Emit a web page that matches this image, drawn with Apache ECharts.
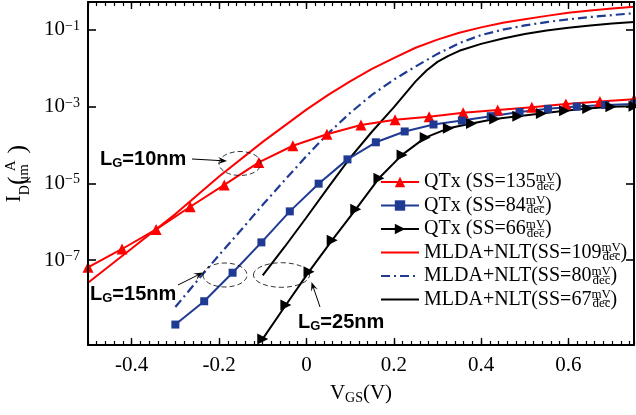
<!DOCTYPE html>
<html>
<head>
<meta charset="utf-8">
<script src="https://cdn.jsdelivr.net/npm/echarts@6/dist/echarts.min.js"></script>
<style>
  html, body { margin: 0; padding: 0; background: #fff; }
  #chart { width: 636px; height: 415px; }
</style>
</head>
<body>
<div id="chart"></div>
<script>
// QTx simulations (markers)
const qtx10V = [-0.5, -0.422, -0.344, -0.266, -0.188, -0.109, -0.031, 0.047, 0.125, 0.203, 0.281, 0.359, 0.438, 0.516, 0.594, 0.672, 0.75]
const qtx10I = [6.5e-8, 1.95e-7, 6.3e-7, 2.45e-6, 9.1e-6, 3.5e-5, 9.5e-5, 1.9e-4, 3.3e-4, 4.5e-4, 5.4e-4, 6.9e-4, 8.1e-4, 9.5e-4, 1.17e-3, 1.35e-3, 1.55e-3]
const qtx15V = [-0.3, -0.234, -0.169, -0.103, -0.038, 0.028, 0.094, 0.159, 0.225, 0.291, 0.356, 0.422, 0.488, 0.553, 0.619, 0.684, 0.75]
const qtx15I = [2.1e-9, 8.5e-9, 4.7e-8, 2.9e-7, 1.86e-6, 9.8e-6, 4.2e-5, 1.17e-4, 2.24e-4, 3.4e-4, 4.3e-4, 5.6e-4, 7.2e-4, 8.7e-4, 1.0e-3, 1.1e-3, 1.17e-3]
const qtx25V = [-0.1, -0.047, 0.006, 0.059, 0.113, 0.166, 0.219, 0.272, 0.325, 0.378, 0.431, 0.484, 0.538, 0.591, 0.644, 0.697, 0.75]
const qtx25I = [8.9e-10, 6.8e-9, 5.0e-8, 3.3e-7, 2.1e-6, 1.35e-5, 5.5e-5, 1.55e-4, 2.7e-4, 3.6e-4, 4.7e-4, 5.6e-4, 6.6e-4, 7.8e-4, 8.9e-4, 9.8e-4, 1.02e-3]

// MLDA+NLT model (lines)
const nlt10V = [-0.5, -0.4, -0.3, -0.2, -0.1, 0, 0.05, 0.1, 0.15, 0.2, 0.25, 0.3, 0.35, 0.4, 0.45, 0.5, 0.55, 0.6, 0.65, 0.7, 0.75]
const nlt10I = [2.57e-8, 2.0e-7, 1.58e-6, 1.51e-5, 1.2e-4, 8.3e-4, 2.0e-3, 4.5e-3, 9.5e-3, 0.0182, 0.0339, 0.055, 0.083, 0.115, 0.151, 0.186, 0.229, 0.275, 0.316, 0.355, 0.398]
const nlt15V = [-0.3, -0.25, -0.2, -0.15, -0.1, -0.05, 0, 0.05, 0.1, 0.15, 0.2, 0.25, 0.3, 0.35, 0.4, 0.45, 0.5, 0.55, 0.6, 0.65, 0.7, 0.75]
const nlt15I = [6.0e-9, 2.9e-8, 1.35e-7, 6.0e-7, 2.75e-6, 1.2e-5, 5.1e-5, 2.0e-4, 6.8e-4, 2.0e-3, 5.0e-3, 0.011, 0.0234, 0.0447, 0.0724, 0.1, 0.129, 0.158, 0.186, 0.214, 0.24, 0.269]
const nlt25V = [-0.1, -0.05, 0, 0.05, 0.1, 0.15, 0.2, 0.25, 0.275, 0.3, 0.325, 0.35, 0.4, 0.45, 0.5, 0.55, 0.6, 0.65, 0.7, 0.75]
const nlt25I = [4.0e-8, 2.2e-7, 1.29e-6, 7.8e-6, 4.6e-5, 2.2e-4, 9.5e-4, 4.5e-3, 8.7e-3, 0.0145, 0.0209, 0.0282, 0.0427, 0.0589, 0.0776, 0.0955, 0.112, 0.129, 0.145, 0.158]

const seriesNames = [
  'QTx (SS=135 mV/dec)',
  'QTx (SS=84 mV/dec)',
  'QTx (SS=66 mV/dec)',
  'MLDA+NLT(SS=109 mV/dec)',
  'MLDA+NLT(SS=80 mV/dec)',
  'MLDA+NLT(SS=67 mV/dec)'
]

// tick labels
const ticksX = [-0.4, -0.2, 0, 0.2, 0.4, 0.6]
const ticksY = [1e-7, 1e-5, 1e-3, 1e-1]

const SERIF = '"Liberation Serif", "Times New Roman", serif'
const SANS = '"Liberation Sans", Arial, sans-serif'
const RED = '#ff0000'
const BLUE = '#1f3a93'

const X_MIN = -0.5
const X_MAX = 0.75
const Y_MIN = 6.17e-10
const Y_MAX = 0.526

function pairs(xs, ys) {
  return xs.map((x, i) => [x, ys[i]])
}

function arrow(x1, y1, x2, y2) {
  const a = Math.atan2(y2 - y1, x2 - x1)
  const L = 9
  const W = 3.5
  const c = Math.cos(a)
  const s = Math.sin(a)
  const bx = x2 - L * c
  const by = y2 - L * s
  return [
    { type: 'line', shape: { x1: x1, y1: y1, x2: x2 - 5 * c, y2: y2 - 5 * s }, style: { stroke: '#000', lineWidth: 1 }, z: 50 },
    {
      type: 'polygon',
      shape: { points: [[x2, y2], [bx - s * W, by + c * W], [x2 - 0.6 * L * c, y2 - 0.6 * L * s], [bx + s * W, by - c * W]] },
      style: { fill: '#000' },
      z: 50
    }
  ]
}

function ellipse(cx, cy, rx, ry) {
  return {
    type: 'ellipse',
    shape: { cx: cx, cy: cy, rx: rx, ry: ry },
    style: { fill: null, stroke: '#000', lineWidth: 0.8, lineDash: [5, 3] },
    z: 50
  }
}

function lgLabel(x, y, txt) {
  return {
    type: 'text',
    x: x,
    y: y,
    z: 50,
    style: {
      text: '{a|L}{b|G}{a|' + txt + '}',
      fontFamily: SANS,
      fontWeight: 'bold',
      verticalAlign: 'top',
      fill: '#000',
      rich: {
        a: { fontFamily: SANS, fontWeight: 'bold', fontSize: 20, lineHeight: 20, verticalAlign: 'top', fill: '#000' },
        b: { fontFamily: SANS, fontWeight: 'bold', fontSize: 13, lineHeight: 13, padding: [12, 0, 0, 0], verticalAlign: 'bottom', fill: '#000' }
      }
    }
  }
}

const chart = echarts.init(document.getElementById('chart'))

// axes sit above the series (z 10), otherwise the inside ticks get hidden
const xTickAxis = (pos, showLabel) => ({
  type: 'value',
  position: pos,
  z: 10,
  min: X_MIN,
  max: X_MAX,
  interval: 0.1,
  axisLine: { show: true, onZero: false, lineStyle: { color: '#000', width: 2 } },
  axisTick: { show: true, inside: true, length: 4, lineStyle: { color: '#000', width: 1.2 } },
  minorTick: { show: true, splitNumber: 5, length: 4, lineStyle: { color: '#000', width: 1.2 } },
  splitLine: { show: false },
  axisLabel: {
    show: showLabel,
    customValues: ticksX,
    margin: 10,
    fontFamily: SERIF,
    fontSize: 21,
    color: '#000',
    formatter: v => String(v)
  }
})

const xMajorAxis = pos => ({
  type: 'value',
  position: pos,
  z: 10,
  min: X_MIN,
  max: X_MAX,
  axisLine: { show: false },
  axisTick: { show: true, inside: true, length: 7, customValues: ticksX, lineStyle: { color: '#000', width: 1.4 } },
  axisLabel: { show: false },
  splitLine: { show: false }
})

const yAxisBase = (pos, showLabel) => ({
  type: 'log',
  logBase: 10,
  position: pos,
  z: 10,
  min: Y_MIN,
  max: Y_MAX,
  axisLine: { show: true, onZero: false, lineStyle: { color: '#000', width: 2 } },
  axisTick: { show: true, inside: true, length: 8, customValues: ticksY, lineStyle: { color: '#000', width: 1.6 } },
  minorTick: { show: false },
  splitLine: { show: false },
  axisLabel: {
    show: showLabel,
    customValues: ticksY,
    margin: 8,
    formatter: v => '{b|10}{e|\u2212' + (-Math.round(Math.log10(v))) + '}',
    rich: {
      b: { fontFamily: SERIF, fontSize: 21, lineHeight: 21, verticalAlign: 'bottom', color: '#000' },
      e: { fontFamily: SERIF, fontSize: 14, lineHeight: 14, padding: [0, 0, 10, 0], verticalAlign: 'top', color: '#000' }
    }
  }
})

const lineSeries = (name, xs, ys, color, extra) => Object.assign({
  name: name,
  type: 'line',
  xAxisIndex: 0,
  yAxisIndex: 0,
  data: pairs(xs, ys),
  color: color,
  lineStyle: { color: color, width: 2 },
  itemStyle: { color: color },
  showSymbol: true,
  smooth: false,
  silent: true,
  animation: false
}, extra)

const legendRich = {
  t: { fontFamily: SERIF, fontSize: 20, lineHeight: 22, color: '#000' },
  u: { fontFamily: SERIF, fontSize: 13, lineHeight: 11, width: 1, verticalAlign: 'top', color: '#000' },
  d: { fontFamily: SERIF, fontSize: 13, lineHeight: 11, verticalAlign: 'bottom', color: '#000' }
}

chart.setOption({
  animation: false,
  backgroundColor: '#fff',
  grid: { left: 88, right: 2, top: 2, bottom: 70, containLabel: false, outerBoundsMode: 'none' },
  xAxis: [
    Object.assign(xTickAxis('bottom', true), {
      name: '{t|V}{s|GS}{t|(V)}',
      nameLocation: 'middle',
      nameGap: 38,
      nameTextStyle: {
        rich: {
          t: { fontFamily: SERIF, fontSize: 21, lineHeight: 22, verticalAlign: 'top', color: '#000' },
          s: { fontFamily: SERIF, fontSize: 14, lineHeight: 14, padding: [10, 0, 0, 0], verticalAlign: 'bottom', color: '#000' }
        }
      }
    }),
    xTickAxis('top', false),
    xMajorAxis('bottom'),
    xMajorAxis('top')
  ],
  yAxis: [
    Object.assign(yAxisBase('left', true), {
      name: '{t|I}{s|D}{p|(}{d|\u03bcm}{u|A}{p|)}',
      nameLocation: 'middle',
      nameGap: 56,
      nameRotate: 90,
      nameTextStyle: {
        rich: {
          t: { fontFamily: SERIF, fontSize: 21, lineHeight: 24, verticalAlign: 'top', color: '#000' },
          s: { fontFamily: SERIF, fontSize: 14, lineHeight: 14, padding: [12, 0, 0, 0], verticalAlign: 'bottom', color: '#000' },
          p: { fontFamily: SERIF, fontSize: 26, lineHeight: 28, color: '#000' },
          d: { fontFamily: SERIF, fontSize: 15, lineHeight: 14, width: 5, verticalAlign: 'bottom', color: '#000' },
          u: { fontFamily: SERIF, fontSize: 15, lineHeight: 14, padding: [0, 7, 0, 0], verticalAlign: 'top', color: '#000' }
        }
      }
    }),
    yAxisBase('right', false)
  ],
  legend: {
    orient: 'vertical',
    left: 380,
    top: 171,
    itemWidth: 38,
    itemHeight: 13,
    itemGap: 1.5,
    selectedMode: false,
    padding: 0,
    data: seriesNames.map((n, i) => i < 3 ? n : { name: n, itemStyle: { opacity: 0 } }),
    formatter: name => {
      const head = name.split(' mV/dec')[0]
      return '{t|' + head + '}{u|m\u0332V\u0332}{d|dec}{t|)}'
    },
    textStyle: { rich: legendRich }
  },
  series: [
    lineSeries(seriesNames[0], qtx10V, qtx10I, RED, { symbol: 'triangle', symbolSize: 11, z: 3 }),
    lineSeries(seriesNames[1], qtx15V, qtx15I, BLUE, { symbol: 'rect', symbolSize: 8, z: 3 }),
    lineSeries(seriesNames[2], qtx25V, qtx25I, '#000', { symbol: 'triangle', symbolRotate: -90, symbolSize: 11, z: 3 }),
    lineSeries(seriesNames[3], nlt10V, nlt10I, RED, { symbol: 'none', z: 2 }),
    lineSeries(seriesNames[4], nlt15V, nlt15I, BLUE, {
      symbol: 'none', z: 2,
      lineStyle: { color: BLUE, width: 2.2, type: [9, 4, 2, 4] }
    }),
    lineSeries(seriesNames[5], nlt25V, nlt25I, '#000', { symbol: 'none', z: 2 })
  ],
  graphic: [
    lgLabel(100, 149.5, '=10nm'),
    ...arrow(192, 159, 227, 161),
    ellipse(240, 163.5, 21, 12),
    lgLabel(90, 284.5, '=15nm'),
    ...arrow(178, 285, 203, 272.5),
    ellipse(225, 275, 22, 12),
    lgLabel(298, 312.5, '=25nm'),
    ...arrow(320, 307, 311.5, 282),
    ellipse(281.5, 275, 28, 12.3)
  ]
})
</script>
</body>
</html>
